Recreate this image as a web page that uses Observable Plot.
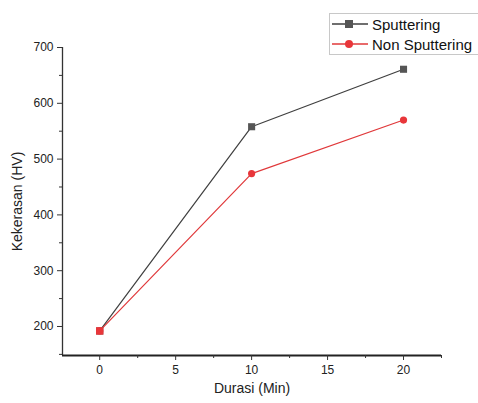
<!DOCTYPE html>
<html><head><meta charset="utf-8">
<script src="https://cdn.jsdelivr.net/npm/d3@7"></script>
<script src="https://cdn.jsdelivr.net/npm/@observablehq/plot@0.6"></script>
<style>
body{margin:0;background:#fff;font-family:"Liberation Sans",Arial,sans-serif;}
#wrap{position:relative;width:478px;height:403px;overflow:hidden;}
#legend{position:absolute;left:329px;top:13px;width:160px;height:40px;border:1px solid #c8c8c8;background:#fff;font-size:15px;color:#111;}
#legend .row{position:absolute;left:0;height:20px;display:flex;align-items:center;}
</style></head>
<body><div id="wrap"><div id="chart"></div><div id="legend"></div></div>
<script>
const durations = [0, 10, 20];
const sputtering = [192, 558, 661];
const nonSputtering = [192, 474, 570];
const seriesNames = ["Sputtering", "Non Sputtering"];
const colors = ["#3f3f3f", "#e0383a"];
const markerColors = ["#555555", "#e8363a"];
const xTicks = [0, 5, 10, 15, 20];
const xMinor = [-2.5, 2.5, 7.5, 12.5, 17.5, 22.5];
const yTicks = [200, 300, 400, 500, 600, 700];
const yMinor = [150, 250, 350, 450, 550, 650];
const xDomain = [-2.45, 22.5];
const yDomain = [148, 700];

const s1 = durations.map((d, i) => ({x: d, y: sputtering[i]}));
const s2 = durations.map((d, i) => ({x: d, y: nonSputtering[i]}));

const chart = Plot.plot({
  width: 478, height: 403,
  marginLeft: 62, marginTop: 47, marginBottom: 48, marginRight: 37,
  style: {fontFamily: "Liberation Sans, Arial, sans-serif", fontSize: "12px", color: "#222", background: "#fff"},
  x: {domain: xDomain},
  y: {domain: yDomain},
  marks: [
    Plot.ruleX([xDomain[0]], {y1: yDomain[0], y2: yDomain[1], stroke: "#333", strokeWidth: 1.3}),
    Plot.ruleY([yDomain[0]], {x1: xDomain[0], x2: xDomain[1], stroke: "#222", strokeWidth: 2}),
    Plot.axisX({ticks: xTicks, tickSize: 5, tickPadding: 5, tickFormat: d => String(d), stroke: "#333",
      label: "Durasi (Min)", labelAnchor: "center", labelArrow: "none", labelOffset: 37, fontSize: 12}),
    Plot.axisX({ticks: xMinor.filter(v => v >= xDomain[0] && v <= xDomain[1]), tickSize: 3, text: null, label: null, stroke: "#333"}),
    Plot.axisY({ticks: yTicks, tickSize: 5, tickPadding: 4, stroke: "#333",
      label: "Kekerasan (HV)", labelAnchor: "center", labelArrow: "none", labelOffset: 50, fontSize: 12}),
    Plot.axisY({ticks: yMinor.filter(v => v >= yDomain[0]), tickSize: 3, text: null, label: null, stroke: "#333"}),
    Plot.line(s1, {x: "x", y: "y", stroke: colors[0], strokeWidth: 1.2}),
    Plot.line(s2, {x: "x", y: "y", stroke: colors[1], strokeWidth: 1.2}),
    Plot.dot(s1, {x: "x", y: "y", symbol: "square", r: 4, fill: markerColors[0]}),
    Plot.dot(s2, {x: "x", y: "y", symbol: "circle", r: 3.6, fill: markerColors[1]}),
    Plot.dot([s2[0]], {x: "x", y: "y", symbol: "square", r: 4.2, fill: markerColors[1]})
  ]
});
chart.querySelectorAll("g[aria-label='x-axis label'] text, g[aria-label='y-axis label'] text").forEach(t => t.setAttribute("font-size", "14"));
document.getElementById("chart").appendChild(chart);

const legend = document.getElementById("legend");
seriesNames.forEach((name, i) => {
  const row = document.createElement("div");
  row.className = "row";
  row.style.top = (i * 20) + "px";
  const sym = i === 0
    ? `<rect x="15" y="6" width="8" height="8" fill="${markerColors[0]}"/>`
    : `<circle cx="19" cy="10" r="4" fill="${markerColors[1]}"/>`;
  row.innerHTML = `<svg width="42" height="20"><line x1="2" x2="38" y1="10" y2="10" stroke="${colors[i]}" stroke-width="1.3"/>${sym}</svg><span>${name}</span>`;
  legend.appendChild(row);
});
</script></body></html>
